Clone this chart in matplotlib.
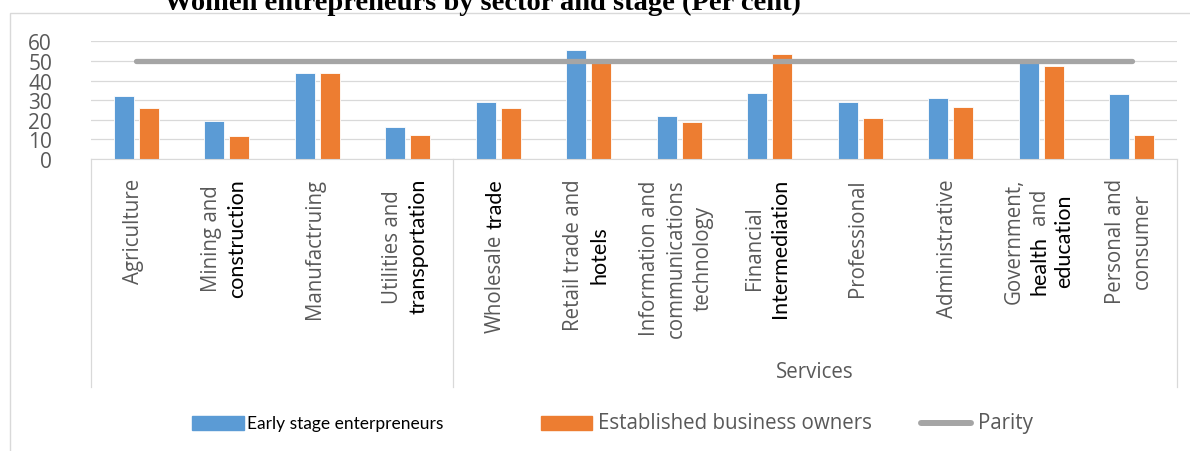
import re
import numpy as np
import matplotlib
matplotlib.use("Agg")
import matplotlib.pyplot as plt
from matplotlib.patches import Rectangle
from matplotlib.lines import Line2D
from matplotlib.transforms import IdentityTransform

W, H = 1190, 452

# black (Calibri-like) parts of the labels are in [brackets]
sectors = [
    "Agriculture",
    "Mining and\n[construction]",
    "Manufactruing",
    "Utilities and\n[transportation]",
    "Wholesale [trade]",
    "Retail trade and\n[hotels]",
    "Information and\ncommunications\ntechnology",
    "Financial\n[Intermediation]",
    "Professional",
    "Administrative",
    "Government,\n[health]  and\n[education]",
    "Personal and\nconsumer",
]
early = [32, 19.5, 44, 16.5, 29, 55.5, 22, 33.5, 29, 31, 49.5, 33]
established = [26, 11.5, 44, 12, 26, 49, 19, 53.5, 21, 26.5, 47.5, 12]
parity = [50] * len(sectors)
group_label = "Services"
yticks = [0, 10, 20, 30, 40, 50, 60]
title = "Women entrepreneurs by sector and stage (Per cent)"

BLUE, ORANGE, GREY = "#5B9BD5", "#ED7D31", "#A5A5A5"
LINE = "#D9D9D9"
TXT = "#595959"
styles = {
    "g": dict(family="Open Sans", size=14.8, color=TXT),
    "k": dict(family="Lato", size=15.5, color="black"),
}
pitch = {"g": 27, "k": 24}

fig = plt.figure(figsize=(W / 100, H / 100), dpi=100)
ax = fig.add_axes([91 / W, 1 - 160 / H, (1177 - 91) / W, (160 - 42.3) / H])

x = np.arange(len(sectors))
ax.bar(x - 0.138, early, 0.22, color=BLUE, edgecolor="white", linewidth=0.6, zorder=2)
ax.bar(x + 0.138, established, 0.22, color=ORANGE, edgecolor="white", linewidth=0.6, zorder=2)
ax.plot(x, parity, color=GREY, lw=3.8, solid_capstyle="round", zorder=3)

ax.set_xlim(-0.5, len(sectors) - 0.5)
ax.set_ylim(0, 60)
ax.set_yticks(yticks)
ax.set_xticks([])
ax.yaxis.grid(True, color=LINE, lw=0.9)
ax.set_axisbelow(True)
for s in ["top", "right", "left"]:
    ax.spines[s].set_visible(False)
ax.spines["bottom"].set_color(LINE)
ax.tick_params(axis="y", length=0, pad=28, labelsize=15, labelcolor=TXT)
for lab in ax.get_yticklabels():
    lab.set_family("Open Sans")

# category box lines below the axis
ax_h = 160 - 42.3
box_bottom = -(388 - 160) / ax_h
for xv in [-0.5, 3.5, len(sectors) - 0.5]:
    ax.axvline(xv, ymin=box_bottom, ymax=0, color=LINE, lw=0.9, clip_on=False)

ax.text(7.5, -(372 - 160) / ax_h, group_label, transform=ax.get_xaxis_transform(),
        ha="center", va="center", **styles["g"])

# rotated category labels, lines centred on each other, block hung from the axis
renderer = fig.canvas.get_renderer()
top_y = H - 179


def parse(line):
    segs = []
    for part in re.split(r"(\[[^\]]*\])", line):
        if not part:
            continue
        kind = "k" if part.startswith("[") else "g"
        core = part.strip("[]")
        lead = len(core) - len(core.lstrip(" "))
        trail = len(core) - len(core.rstrip(" "))
        segs.append((core.strip(), kind, lead, trail))
    return segs


for i, label in enumerate(sectors):
    xc = ax.transData.transform((i, 0))[0]
    lines = [parse(l) for l in label.split("\n")]
    placed = []
    for segs in lines:
        items, total, prev_trail = [], 0.0, 0
        for txt, kind, lead, trail in segs:
            sp = (lead + prev_trail) * 0.26 * styles[kind]["size"] * 100 / 72 if items else 0
            t = fig.text(0, 0, txt, rotation=90, ha="center", va="bottom",
                         transform=IdentityTransform(), **styles[kind])
            ln = t.get_window_extent(renderer).height
            items.append((t, total + sp))
            total += sp + ln
            prev_trail = trail
        placed.append((items, total, segs[0][1]))
    lmax = max(p[1] for p in placed)
    heights = [pitch[p[2]] for p in placed]
    offs = np.cumsum([0] + heights[:-1]) + np.array(heights) / 2 - sum(heights) / 2
    yc = top_y - lmax / 2
    for (items, total, _), dx in zip(placed, offs):
        y0 = yc - total / 2
        for t, off in items:
            t.set_position((xc + dx - 3, y0 + off))

# title and outer frame
fig.text(482 / W, 1 - 10 / H, title, ha="center", va="baseline",
         family="Liberation Serif", weight="bold", size=20.5)
fig.add_artist(Rectangle((10 / W, -0.1), 1.2, 1 - 13.5 / H + 0.1, transform=fig.transFigure,
                         fill=False, ec=LINE, lw=1))

# legend
ly = H - 424
fig.add_artist(Rectangle((192, ly - 7), 52, 14, transform=IdentityTransform(), color=BLUE))
fig.text(247, ly, "Early stage enterpreneurs", transform=IdentityTransform(),
         ha="left", va="center", family="Lato", size=12.5, color="black")
fig.add_artist(Rectangle((541, ly - 7), 51, 14, transform=IdentityTransform(), color=ORANGE))
fig.text(598, ly, "Established business owners", transform=IdentityTransform(),
         ha="left", va="center", **styles["g"])
fig.add_artist(Line2D([921, 971], [ly, ly], transform=IdentityTransform(), color=GREY,
                      lw=4.3, solid_capstyle="round"))
fig.text(978, ly, "Parity", transform=IdentityTransform(), ha="left", va="center", **styles["g"])

fig.savefig("out.png", dpi=100)
